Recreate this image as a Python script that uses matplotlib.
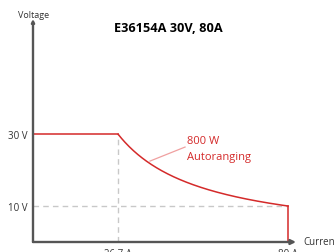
import numpy as np
import matplotlib
matplotlib.use("Agg")
import matplotlib.pyplot as plt

plt.rcParams['font.family'] = ['Open Sans', 'DejaVu Sans']

v_max = 30.0
i_knee = 26.7
i_max = 80.0
v_min = 10.0
power = 800.0
xtick_vals = [26.7, 80]
xtick_labels = ['26.7 A', '80 A']
ytick_vals = [10, 30]
ytick_labels = ['10 V', '30 V']
title = 'E36154A 30V, 80A'

red = '#d42a2a'
axc = '#555555'
gridc = '#c8c8c8'

fig = plt.figure(figsize=(3.34, 2.53), dpi=100)
ax = fig.add_axes([33/334, 10/253, 263/334, 223/253])
ax.set_xlim(0, 82.5)
ax.set_ylim(0, 62)
for s in ax.spines.values():
    s.set_visible(False)

# dashed guides
ax.plot([i_knee, i_knee], [0, v_max], ls=(0, (4, 3)), color=gridc, lw=1)
ax.plot([0, i_max], [v_min, v_min], ls=(0, (4, 3)), color=gridc, lw=1)

# curve
I = np.linspace(i_knee, i_max, 200)
Vc = power / I
ax.plot([0, i_knee], [v_max, v_max], color=red, lw=1.1)
ax.plot(I, Vc, color=red, lw=1.1)
ax.plot([i_max, i_max], [power / i_max, 0], color=red, lw=1.1)

# leader line and label
ax.plot([36.7, 47.7], [22.5, 26.4], color='#f0a0a0', lw=0.9)
ax.text(48.3, 26.1, '800 W\nAutoranging', color=red, fontsize=8, va='center', ha='left', linespacing=1.6)

# axes arrows
ax.annotate('', xy=(82.5, 0), xytext=(0, 0), xycoords='data',
            arrowprops=dict(arrowstyle='-|>', color=axc, lw=1.7, mutation_scale=7, shrinkA=0, shrinkB=0),
            annotation_clip=False)
ax.annotate('', xy=(0, 62), xytext=(0, 0), xycoords='data',
            arrowprops=dict(arrowstyle='-|>', color=axc, lw=1.7, mutation_scale=4, shrinkA=0, shrinkB=0),
            annotation_clip=False)

ax.set_xticks(xtick_vals)
ax.set_xticklabels(xtick_labels)
ax.set_yticks(ytick_vals)
ax.set_yticklabels(ytick_labels)
ax.tick_params(length=0, labelsize=7, colors='#333333', pad=4)

fig.text(18/334, 1 - 15/253, 'Voltage', fontsize=6.5, color='#333333', ha='left', va='center')
fig.text(303/334, 10/253, 'Current', fontsize=7, color='#333333', ha='left', va='center')
fig.text(168/334, 1 - 28/253, title, fontsize=9.2, fontweight='bold', ha='center', va='center')

fig.savefig('out.png', dpi=100)
